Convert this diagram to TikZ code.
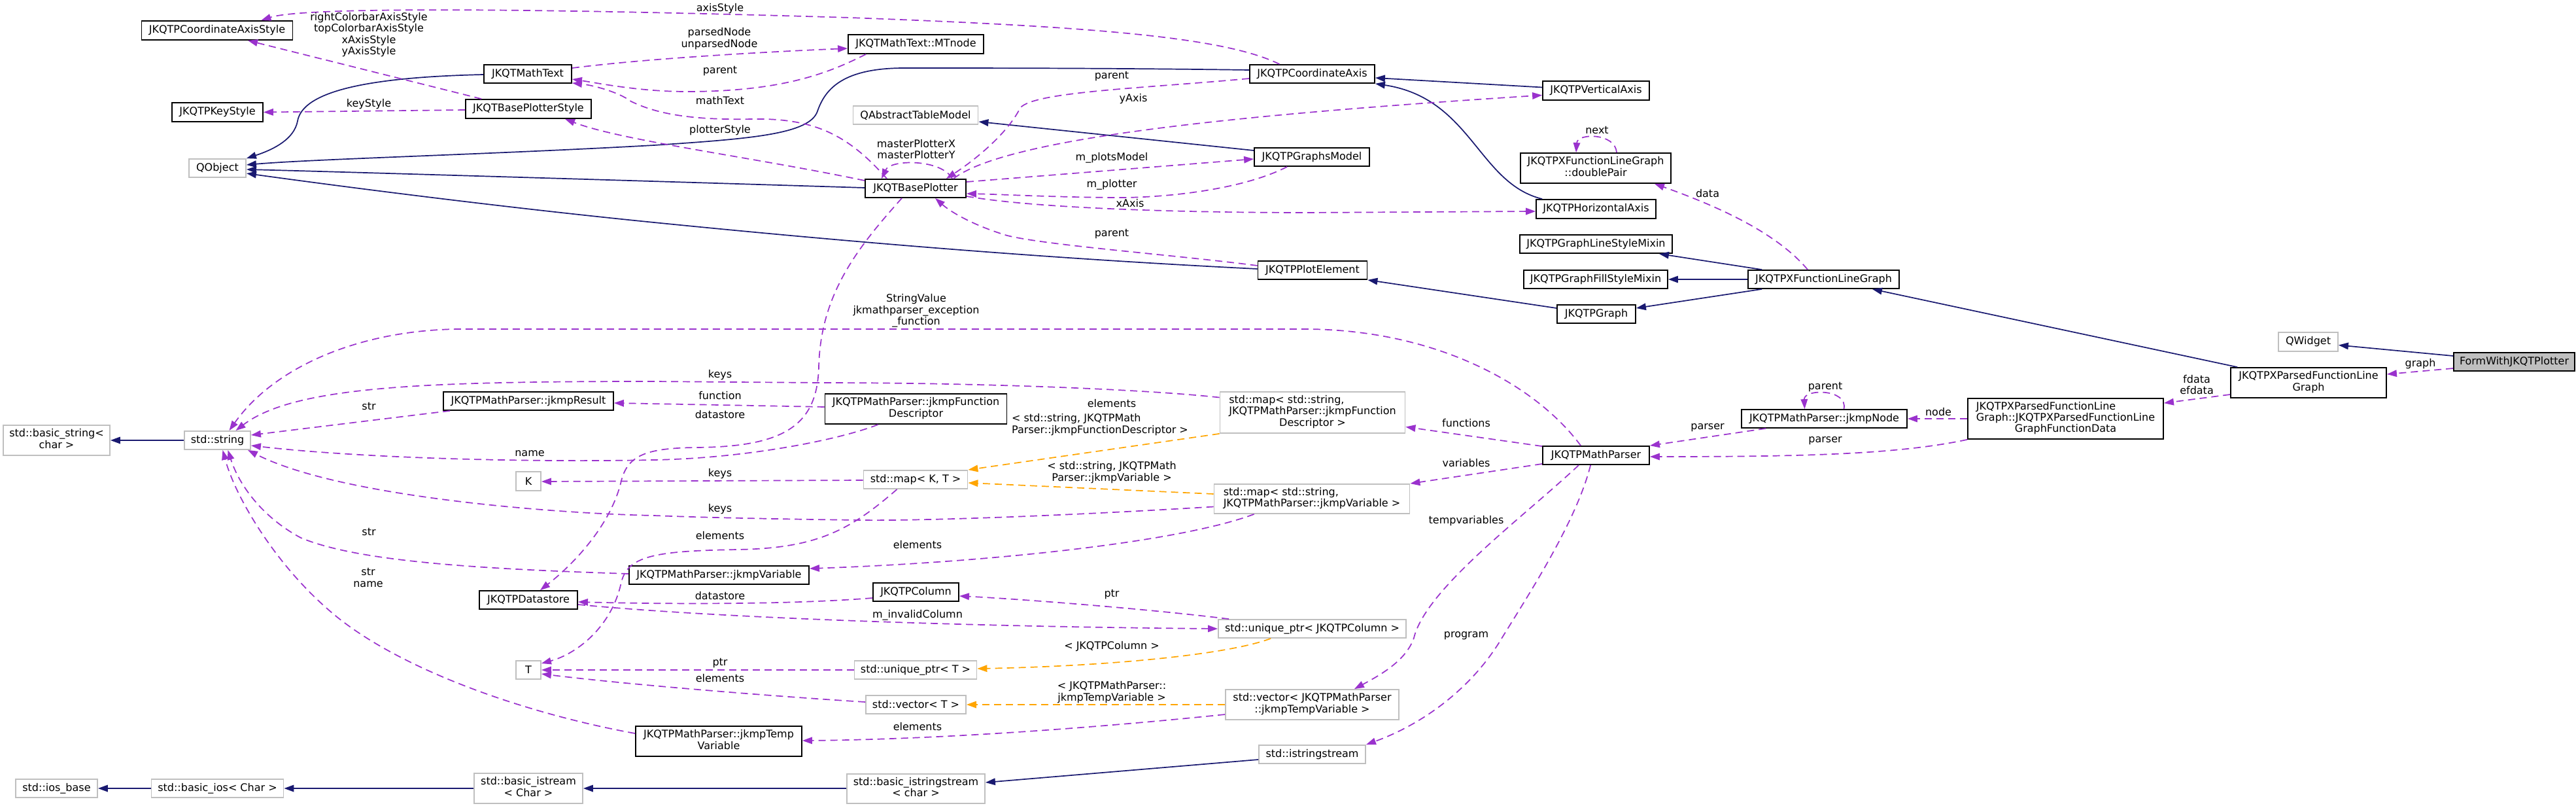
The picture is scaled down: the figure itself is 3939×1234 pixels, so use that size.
\documentclass[tikz,border=0pt]{standalone}
\usepackage{fontspec}
\setmainfont{DejaVu Sans}
\usetikzlibrary{arrows.meta,calc}
\definecolor{inhc}{HTML}{191970}
\definecolor{usec}{HTML}{9A32CD}
\definecolor{tmplc}{HTML}{FFA500}
\definecolor{greyb}{HTML}{BFBFBF}
\newcommand{\dgfont}{\fontsize{16}{17.3}\selectfont}
\newcommand{\twol}[2]{\begin{tabular}{@{}l@{}}#1\\\multicolumn{1}{@{}c@{}}{#2}\end{tabular}}
\newcommand{\threel}[3]{\begin{tabular}{@{}l@{}}#1\\#2\\\multicolumn{1}{@{}c@{}}{#3}\end{tabular}}
\tikzset{
  cls/.style={draw=black, line width=1.8pt, fill=white, inner sep=0pt, minimum height=28pt, font=\dgfont},
  ext/.style={cls, draw=greyb},
  inh/.style={draw=inhc, line width=1.7pt, -{Triangle[length=15pt,width=10.5pt]}},
  use/.style={draw=usec, line width=1.7pt, dash pattern=on 11pt off 7pt, -{Triangle[length=15pt,width=10.5pt]}},
  tpl/.style={draw=tmplc, line width=1.7pt, dash pattern=on 11pt off 7pt, -{Triangle[length=15pt,width=10.5pt]}},
  lbl/.style={font=\dgfont, align=center, inner sep=0pt}
}
\begin{document}
\begin{tikzpicture}[x=1pt,y=-1pt]
\fill[white] (0,0) rectangle (3939,1234);
\path[use as bounding box] (0,0) rectangle (3939,1234);

% ---------- class nodes (black border)
\node[cls, minimum width=231pt, minimum height=29pt] (CAS) at (332,46.5) {JKQTPCoordinateAxisStyle};
\node[cls, minimum width=134pt] (MT) at (807,113) {JKQTMathText};
\node[cls, minimum width=139pt, minimum height=29pt] (KS) at (332.5,171.5) {JKQTPKeyStyle};
\node[cls, minimum width=192pt, minimum height=29pt] (BPS) at (808,166.5) {JKQTBasePlotterStyle};
\node[cls, minimum width=207pt, minimum height=29pt] (MTN) at (1400.5,67.5) {JKQTMathText::MTnode};
\node[cls, minimum width=154pt] (BP) at (1400,288) {JKQTBasePlotter};
\node[cls, minimum width=191pt] (CA) at (2006.5,113) {JKQTPCoordinateAxis};
\node[cls, minimum width=176pt] (GM) at (2006,240) {JKQTPGraphsModel};
\node[cls, minimum width=167pt] (PE) at (2007,413) {JKQTPPlotElement};
\node[cls, minimum width=163pt, minimum height=29pt] (VA) at (2440.5,138.5) {JKQTPVerticalAxis};
\node[cls, minimum width=230pt, minimum height=46pt] (DP) at (2440,257) {\twol{JKQTPXFunctionLineGraph}{::doublePair}};
\node[cls, minimum width=183pt, minimum height=29pt] (HA) at (2440.5,319.5) {JKQTPHorizontalAxis};
\node[cls, minimum width=233pt] (LSM) at (2440.5,373) {JKQTPGraphLineStyleMixin};
\node[cls, minimum width=220pt] (FSM) at (2440,427) {JKQTPGraphFillStyleMixin};
\node[cls, minimum width=231pt] (XFLG) at (2788.5,427) {JKQTPXFunctionLineGraph};
\node[cls, minimum width=120pt] (G) at (2441,480) {JKQTPGraph};
\node[cls, minimum width=253pt] (NODE) at (2789.5,640) {JKQTPMathParser::jkmpNode};
\node[cls, minimum width=163pt] (MP) at (2440.5,696) {JKQTPMathParser};
\node[cls, minimum width=238pt, minimum height=46pt] (PFLG) at (3530,585) {\twol{JKQTPXParsedFunctionLine}{Graph}};
\node[cls, minimum width=299pt, minimum height=62pt] (FD3) at (3158.5,640) {\threel{JKQTPXParsedFunctionLine}{Graph::JKQTPXParsedFunctionLine}{GraphFunctionData}};
\node[cls, fill=greyb, minimum width=185pt] (FORM) at (3844.5,553) {FormWithJKQTPlotter};
\node[cls, minimum width=260pt] (RES) at (808,613) {JKQTPMathParser::jkmpResult};
\node[cls, minimum width=278pt, minimum height=46pt] (FDESC) at (1400.5,625) {\twol{JKQTPMathParser::jkmpFunction}{Descriptor}};
\node[cls, minimum width=150pt] (DS) at (808,917) {JKQTPDatastore};
\node[cls, minimum width=275pt] (VAR) at (1099.5,879) {JKQTPMathParser::jkmpVariable};
\node[cls, minimum width=131pt] (COL) at (1400.5,905) {JKQTPColumn};
\node[cls, minimum width=254pt, minimum height=46pt] (TV) at (1099,1133) {\twol{JKQTPMathParser::jkmpTemp}{Variable}};

% ---------- external nodes (grey border)
\node[ext, minimum width=87pt] (QO) at (332.5,257) {QObject};
\node[ext, minimum width=191pt] (QATM) at (1400,176) {QAbstractTableModel};
\node[ext, minimum width=91pt, minimum height=29pt] (QW) at (3529.5,522.5) {QWidget};
\node[ext, minimum width=163pt, minimum height=46pt] (BSTR) at (86.5,673) {\twol{std::basic\_string<}{char >}};
\node[ext, minimum width=101pt] (STR) at (332.5,673) {std::string};
\node[ext, minimum width=38pt, minimum height=29pt] (K) at (808,735.5) {K};
\node[ext, minimum width=283pt, minimum height=63pt] (MAPFD) at (2007,630.5) {\threel{std::map< std::string,}{JKQTPMathParser::jkmpFunction}{Descriptor >}};
\node[ext, minimum width=159pt] (MAPKT) at (1400,733) {std::map< K, T >};
\node[ext, minimum width=299pt, minimum height=45pt] (MAPVAR) at (2006,762.5) {\twol{std::map< std::string,}{JKQTPMathParser::jkmpVariable >}};
\node[ext, minimum width=38pt] (T) at (808,1024) {T};
\node[ext, minimum width=125pt] (IOSB) at (86.5,1205) {std::ios\_base};
\node[ext, minimum width=202pt] (BIOS) at (332.5,1205) {std::basic\_ios< Char >};
\node[ext, minimum width=166pt, minimum height=46pt] (BIST) at (808,1205) {\twol{std::basic\_istream}{< Char >}};
\node[ext, minimum width=287pt] (UPCOL) at (2006.5,961) {std::unique\_ptr< JKQTPColumn >};
\node[ext, minimum width=187pt] (UPT) at (1400,1024) {std::unique\_ptr< T >};
\node[ext, minimum width=153pt] (VECT) at (1400.5,1077) {std::vector< T >};
\node[ext, minimum width=265pt, minimum height=46pt] (VECTV) at (2006.5,1077) {\twol{std::vector< JKQTPMathParser}{::jkmpTempVariable >}};
\node[ext, minimum width=211pt, minimum height=45pt] (BISS) at (1400.5,1205.5) {\twol{std::basic\_istringstream}{< char >}};
\node[ext, minimum width=163pt] (ISS) at (2006.5,1153) {std::istringstream};

% ---------- inheritance edges
\draw[inh] ($(MT.west)+(0,1)$) .. controls (560,118) and (463,140) .. (455,185) .. controls (450,212) and (420,228) .. (QO.north east);
\draw[inh] ($(CA.west)+(0,-6)$) .. controls (1700,104) and (1500,104) .. (1383,104) .. controls (1290,104) and (1262,135) .. (1250,170) .. controls (1238,205) and (1150,212) .. (1000,222) .. controls (750,236) and (480,243) .. ($(QO.east)+(0,-5)$);
\draw[inh] ($(BP.west)+(0,-1)$) .. controls (1000,277) and (500,262) .. ($(QO.east)+(0,2)$);
\draw[inh] ($(PE.west)+(0,-2)$) .. controls (1600,395) and (1300,370) .. (1000,340) .. controls (750,315) and (500,282) .. ($(QO.east)+(0,8)$);
\draw[inh] ($(GM.west)+(0,-10)$) -- ($(QATM.east)+(0,10)$);
\draw[inh] ($(VA.west)+(0,-5)$) -- ($(CA.east)+(0,6)$);
\draw[inh] ($(HA.north west)+(10,0)$) .. controls (2260,280) and (2250,150) .. (CA.south east);
\draw[inh] ($(G.west)+(0,-9)$) -- (PE.south east);
\draw[inh] ($(XFLG.north west)+(22,0)$) -- ($(LSM.south east)+(-21,0)$);
\draw[inh] (XFLG.west) -- (FSM.east);
\draw[inh] ($(XFLG.south west)+(22,0)$) -- ($(G.east)+(0,-9)$);
\draw[inh] ($(PFLG.north west)+(11,0)$) -- ($(XFLG.south east)+(-42,0)$);
\draw[inh] ($(FORM.west)+(0,-9)$) -- ($(QW.east)+(0,5)$);
\draw[inh] (STR.west) -- (BSTR.east);
\draw[inh] (BIOS.west) -- (IOSB.east);
\draw[inh] (BIST.west) -- (BIOS.east);
\draw[inh] ($(BISS.west)+(0,-0.5)$) -- (BIST.east);
\draw[inh] ($(ISS.west)+(0,8)$) -- ($(BISS.east)+(0,-9.5)$);

% ---------- usage edges
\draw[use] ($(CA.north)+(-50,0)$) .. controls (1870,55) and (1650,40) .. (1300,27) .. controls (900,15) and (470,8) .. ($(CAS.north east)+(-49,0)$);
\draw[use] ($(BPS.north west)+(25,0)$) -- ($(CAS.south)+(47,0)$);
\draw[use] ($(BPS.west)+(0,1.5)$) -- (KS.east);
\draw[use] ($(MT.east)+(0,-9)$) .. controls (1000,88) and (1200,78) .. ($(MTN.west)+(0,6.5)$);
\draw[use] ($(MTN.south west)+(28,0)$) .. controls (1270,110) and (1200,140) .. (1050,140) .. controls (980,140) and (920,128) .. ($(MT.east)+(0,8)$);
\draw[use] ($(BP.north west)+(34,0)$) .. controls (1300,210) and (1250,180) .. (1150,182) .. controls (1050,184) and (1000,172) .. (965,155) .. controls (945,140) and (905,130) .. ($(MT.south east)+(0,-1)$);
\draw[use] ($(BP.west)+(0,-12)$) .. controls (1150,240) and (950,215) .. ($(BPS.south)+(56,0)$);
\draw[use] ($(BP.north)+(56,0)$) .. controls (1440,243) and (1362,243) .. ($(BP.north)+(-52,0)$);
\draw[use] ($(CA.west)+(0,7)$) .. controls (1750,135) and (1580,140) .. (1560,165) .. controls (1540,205) and (1490,245) .. ($(BP.north east)+(-31,0)$);
\draw[use] ($(BP.north east)+(-20,0)$) .. controls (1540,210) and (1900,175) .. ($(VA.west)+(0,7)$);
\draw[use] ($(BP.east)+(0,-10)$) -- ($(GM.west)+(0,3)$);
\draw[use] ($(GM.south west)+(51,0)$) .. controls (1900,290) and (1780,303) .. (1701,302) .. controls (1600,301) and (1530,297) .. ($(BP.east)+(0,8)$);
\draw[use] ($(BP.east)+(0,12)$) .. controls (1580,318) and (1800,325) .. (2000,325) -- ($(HA.west)+(0,3.5)$);
\draw[use] ($(PE.west)+(0,-7)$) .. controls (1800,390) and (1600,375) .. (1540,360) .. controls (1490,345) and (1455,325) .. ($(BP.south)+(30,0)$);
\draw[use] ($(DP.north)+(32,0)$) .. controls (2470,203) and (2412,203) .. ($(DP.north)+(-30,0)$);
\draw[use] ($(XFLG.north west)+(92,0)$) .. controls (2720,360) and (2640,320) .. ($(DP.south east)+(-26,0)$);
\draw[use] ($(FORM.west)+(0,10)$) -- ($(PFLG.east)+(0,-13)$);
\draw[use] ($(PFLG.west)+(0,18)$) -- ($(FD3.north east)+(0,8)$);
\draw[use] (FD3.west) -- (NODE.east);
\draw[use] (FD3.south west) .. controls (2900,695) and (2750,698) .. ($(MP.east)+(0,2)$);
\draw[use] ($(NODE.south west)+(38,0)$) -- (MP.north east);
\draw[use] ($(NODE.north)+(30,0)$) .. controls (2826,594) and (2758,594) .. ($(NODE.north)+(-30,0)$);
\draw[use] ($(MP.north west)+(0,1)$) -- ($(MAPFD.east)+(0,22)$);
\draw[use] ($(MP.west)+(0,13)$) -- (MAPVAR.north east);
\draw[use] ($(MP.south west)+(56,0)$) .. controls (2330,790) and (2180,900) .. (2162,975) .. controls (2150,1010) and (2110,1032) .. ($(VECTV.north east)+(-69,0)$);
\draw[use] ($(MP.south west)+(74,0)$) .. controls (2410,800) and (2330,920) .. (2293,981) .. controls (2250,1050) and (2180,1105) .. (ISS.north east);
\draw[use] ($(MP.north west)+(59,0)$) .. controls (2350,590) and (2200,505) .. (2000,503) -- (700,503) .. controls (550,505) and (420,560) .. ($(STR.north)+(18,0)$);
\draw[use] ($(MAPFD.west)+(0,-23)$) .. controls (1750,595) and (1500,585) .. (1255,585) -- (1000,583) .. controls (650,583) and (450,590) .. ($(STR.north)+(28,0)$);
\draw[use] ($(RES.south west)+(11,0)$) -- ($(STR.east)+(0,-8)$);
\draw[use] ($(FDESC.west)+(0,-3)$) -- ($(RES.east)+(0,3)$);
\draw[use] ($(FDESC.south west)+(82,0)$) .. controls (1290,670) and (1150,700) .. (1000,703) .. controls (800,707) and (550,700) .. ($(STR.east)+(0,8)$);
\draw[use] ($(BP.south)+(-21,0)$) .. controls (1310,380) and (1255,450) .. (1252,560) .. controls (1250,650) and (1200,683) .. (1064,684) .. controls (990,685) and (960,695) .. (950,735) .. controls (935,800) and (880,860) .. ($(DS.north)+(18,0)$);
\draw[use] ($(MAPKT.west)+(0,1)$) -- ($(K.east)+(0,0.5)$);
\draw[use] ($(MAPVAR.west)+(0,12)$) .. controls (1600,790) and (1400,796) .. (1319,795) .. controls (1150,793) and (1050,790) .. (1000,788) .. controls (850,785) and (520,760) .. ($(STR.south east)+(-5,0)$);
\draw[use] ($(MAPKT.south west)+(52,0)$) .. controls (1300,810) and (1250,838) .. (1128,840) .. controls (1000,842) and (960,850) .. (950,890) .. controls (935,960) and (880,1000) .. ($(T.east)+(0,-10)$);
\draw[use] ($(MAPVAR.south west)+(62,0)$) .. controls (1800,830) and (1500,860) .. ($(VAR.east)+(0,-10)$);
\draw[use] ($(VAR.west)+(0,-2)$) .. controls (750,870) and (550,860) .. (460,822) .. controls (400,790) and (365,740) .. ($(STR.south)+(16,0)$);
\draw[use] ($(TV.west)+(0,-12)$) .. controls (800,1090) and (600,1020) .. (500,930) .. controls (420,860) and (360,760) .. ($(STR.south)+(8,0)$);
\draw[use] ($(COL.west)+(0,9)$) .. controls (1200,925) and (1000,923) .. ($(DS.east)+(0,3)$);
\draw[use] ($(DS.east)+(0,7)$) .. controls (1100,945) and (1500,958) .. (UPCOL.west);
\draw[use] ($(UPCOL.north west)+(17,0)$) .. controls (1750,930) and (1550,915) .. ($(COL.east)+(0,6)$);
\draw[use] (UPT.west) -- (T.east);
\draw[use] ($(VECT.west)+(0,-4)$) .. controls (1150,1062) and (950,1045) .. ($(T.east)+(0,6)$);
\draw[use] ($(VECTV.west)+(0,15)$) .. controls (1700,1110) and (1450,1130) .. ($(TV.east)+(0,-1)$);

% ---------- template edges
\draw[tpl] (MAPFD.south west) -- (MAPKT.north east);
\draw[tpl] ($(MAPVAR.west)+(0,-7.5)$) -- ($(MAPKT.east)+(0,5)$);
\draw[tpl] ($(UPCOL.south west)+(81,0)$) .. controls (1880,1000) and (1700,1018) .. ($(UPT.east)+(0,-2)$);
\draw[tpl] (VECTV.west) -- (VECT.east);

% ---------- edge labels
\node[lbl] (l1) at (1101,13) {axisStyle};
\node[lbl] (l2) at (564,53) {rightColorbarAxisStyle\\topColorbarAxisStyle\\xAxisStyle\\yAxisStyle};
\node[lbl] (l3) at (564,159) {keyStyle};
\node[lbl] (l4) at (1100,59) {parsedNode\\unparsedNode};
\node[lbl] (l5) at (1101,109) {parent};
\node[lbl] (l6) at (1101,154) {mathText};
\node[lbl] (l7) at (1101,199) {plotterStyle};
\node[lbl] (l8) at (1401,228) {masterPlotterX\\masterPlotterY};
\node[lbl] (l9) at (1700,117) {parent};
\node[lbl] (l10) at (1733,151) {yAxis};
\node[lbl] (l11) at (1700,241) {m\_plotsModel};
\node[lbl] (l12) at (1700,282) {m\_plotter};
\node[lbl] (l13) at (1728,311) {xAxis};
\node[lbl] (l14) at (1700,358) {parent};
\node[lbl] (l15) at (2442,199) {next};
\node[lbl] (l16) at (2611,296) {data};
\node[lbl] (l17) at (3701,556) {graph};
\node[lbl] (l18) at (3359,588) {fdata\\efdata};
\node[lbl] (l19) at (2964,630) {node};
\node[lbl] (l20) at (2791,592) {parent};
\node[lbl] (l21) at (2611,654) {parser};
\node[lbl] (l22) at (2791,674) {parser};
\node[lbl] (l23) at (2242,647) {functions};
\node[lbl] (l24) at (2242,708) {variables};
\node[lbl] (l25) at (2242,796) {tempvariables};
\node[lbl] (l26) at (2242,972) {program};
\node[lbl] (l27) at (1401,475) {StringValue\\jkmathparser\_exception\\\_function};
\node[lbl] (l28) at (1101,573) {keys};
\node[lbl] (l29) at (1101,605) {function};
\node[lbl] (l30) at (1101,634) {datastore};
\node[lbl] (l31) at (1700,617) {elements};
\node[lbl] (l32) at (1682,650) {\twol{< std::string, JKQTPMath}{Parser::jkmpFunctionDescriptor >}};
\node[lbl] (l33) at (1700,723) {\twol{< std::string, JKQTPMath}{Parser::jkmpVariable >}};
\node[lbl] (l34) at (1101,724) {keys};
\node[lbl] (l35) at (1101,778) {keys};
\node[lbl] (l36) at (1101,819) {elements};
\node[lbl] (l37) at (1403,833) {elements};
\node[lbl] (l38) at (564,621) {str};
\node[lbl] (l39) at (810,693) {name};
\node[lbl] (l40) at (564,813) {str};
\node[lbl] (l41) at (563,883) {str\\name};
\node[lbl] (l42) at (1101,911) {datastore};
\node[lbl] (l43) at (1700,909) {ptr};
\node[lbl] (l44) at (1403,940) {m\_invalidColumn};
\node[lbl] (l45) at (1700,988) {< JKQTPColumn >};
\node[lbl] (l46) at (1101,1014) {ptr};
\node[lbl] (l47) at (1101,1037) {elements};
\node[lbl] (l48) at (1700,1059) {\twol{< JKQTPMathParser::}{jkmpTempVariable >}};
\node[lbl] (l49) at (1403,1111) {elements};
\end{tikzpicture}
\end{document}
